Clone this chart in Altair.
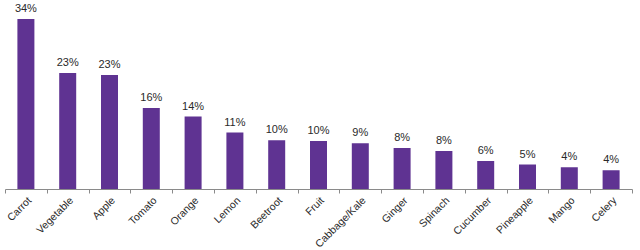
import altair as alt
import pandas as pd

categories = ["Carrot", "Vegetable", "Apple", "Tomato", "Orange", "Lemon", "Beetroot",
              "Fruit", "Cabbage/Kale", "Ginger", "Spinach", "Cucumber", "Pineapple",
              "Mango", "Celery"]
values = [34, 23, 23, 16, 14, 11, 10, 10, 9, 8, 8, 6, 5, 4, 4]
heights = [34, 23.2, 22.8, 16.2, 14.5, 11.3, 9.75, 9.6, 9.15, 8.2, 7.6, 5.6, 4.9, 4.35, 3.75]

df = pd.DataFrame({"cat": categories, "h": heights,
                   "label": [f"{v}%" for v in values]})

x = alt.X("cat:N", sort=categories, title=None,
          scale=alt.Scale(paddingInner=0, paddingOuter=0),
          axis=alt.Axis(labelAngle=-45, labelFont="Liberation Sans", labelFontSize=10.5,
                        labelColor="#2a2a2a", domainColor="#8a8a8a", tickColor="#8a8a8a",
                        tickSize=4, tickBand="extent", labelPadding=2))
y = alt.Y("h:Q", scale=alt.Scale(domain=[0, 34], nice=False), axis=None)

bars = alt.Chart(df).mark_bar(size=17, color="#5f3392").encode(x=x, y=y)
text = alt.Chart(df).mark_text(dy=-5, baseline="bottom", font="Liberation Sans",
                               fontSize=11, color="#2a2a2a").encode(x=x, y=y, text="label:N")

chart = (bars + text).properties(
    width=627, height=170,
    autosize=alt.AutoSizeParams(type="none"),
    padding={"left": 5, "top": 19, "right": 8, "bottom": 61},
    background="white",
).configure_view(stroke=None)

chart.save("out.html", embed_options={"renderer": "svg", "actions": False})
